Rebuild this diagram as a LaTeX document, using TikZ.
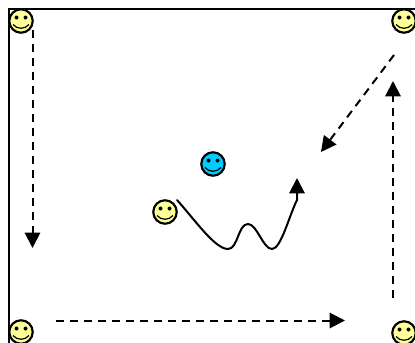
\documentclass[tikz,border=0pt]{standalone}
\usetikzlibrary{arrows.meta}
\definecolor{faceyellow}{HTML}{FFFF99}
\definecolor{faceblue}{HTML}{00CCFF}
\tikzset{
  x=0.75pt,y=-0.75pt,
  face/.style={circle,draw=black,line width=1.6pt,minimum size=17.6pt,inner sep=0pt,outer sep=0pt},
  frameline/.style={draw=black,line width=1.5pt},
  run/.style={draw=black,line width=1.5pt,dash pattern=on 6pt off 4.5pt,-{Triangle[length=11.5pt,width=11.5pt]}},
  dribble/.style={draw=black,line width=1.5pt,line cap=round,-{Triangle[length=11.5pt,width=11.5pt]}},
  smile/.style={draw=black,line width=0.9pt}
}
\newcommand{\smiley}[4]{%
  \node[face,fill=#4] (#1) at (#2,#3) {};
  \fill[black] (#2-4.5,#3-3.5) circle (2);
  \fill[black] (#2+4.5,#3-3.5) circle (2);
  \draw[smile] (#2-8,#3+3.5) .. controls (#2-4,#3+8.5) and (#2+4,#3+8.5) .. (#2+8,#3+3.5);
}
\begin{document}
\begin{tikzpicture}
\useasboundingbox (0,0) rectangle (415,343);
\begin{scope}
\clip (0,0) rectangle (415,343);
\coordinate (ftl) at (9,9);
\coordinate (ftr) at (415,9);
\coordinate (fbl) at (9,343);
\draw[frameline] (fbl) -- (ftl) -- (ftr);
\smiley{tl}{21}{21}{faceyellow}
\smiley{tr}{404}{21}{faceyellow}
\smiley{bl}{21}{332}{faceyellow}
\smiley{br}{404}{333}{faceyellow}
\smiley{blue}{213}{164}{faceblue}
\smiley{player}{165}{212}{faceyellow}
\coordinate (a1) at (32.5,30);
\coordinate (a2) at (32.5,248);
\coordinate (b1) at (56,320.5);
\coordinate (b2) at (345,320.5);
\coordinate (c1) at (393,298);
\coordinate (c2) at (393,81);
\coordinate (d1) at (394,55);
\coordinate (d2) at (321,152);
\coordinate (e1) at (177,200);
\coordinate (e2) at (297,178);
\draw[run] (a1) -- (a2);
\draw[run] (b1) -- (b2);
\draw[run] (c1) -- (c2);
\draw[run] (d1) -- (d2);
\draw[dribble] (e1) .. controls (195,220) and (215,249) .. (228,249)
  .. controls (238,249) and (238,224) .. (248,224)
  .. controls (257,224) and (263,249) .. (272,249)
  .. controls (281,249) and (289,216) .. (297,200) -- (e2);
\end{scope}
\end{tikzpicture}
\end{document}
